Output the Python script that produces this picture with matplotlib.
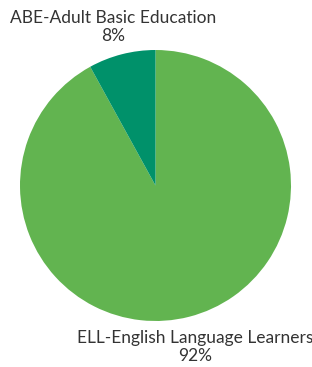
import matplotlib.pyplot as plt

labels = ['ELL-English Language Learners', 'ABE-Adult Basic Education']
shares = [92, 8]
colors = ['#62b450', '#00916a']

plt.rcParams['font.family'] = ['Lato', 'DejaVu Sans']

fig = plt.figure(figsize=(3.12, 3.67), dpi=100)
ax = fig.add_axes([20 / 312, 46 / 367, 271 / 312, 271 / 367])

ax.pie(shares, colors=colors, startangle=90, counterclock=False,
       radius=1, wedgeprops=dict(linewidth=0))

# data labels
label_pos = [(0.29, -1.19), (-0.31, 1.17)]
for lab, val, (x, y) in zip(labels, shares, label_pos):
    ax.text(x, y, f'{lab}\n{val}%', ha='center', va='center',
            fontsize=12.5, color='#333333', linespacing=1.15, clip_on=False)

ax.set_xlim(-1, 1)
ax.set_ylim(-1, 1)
ax.set_aspect('equal')
ax.axis('off')

fig.savefig('out.png', dpi=100)
